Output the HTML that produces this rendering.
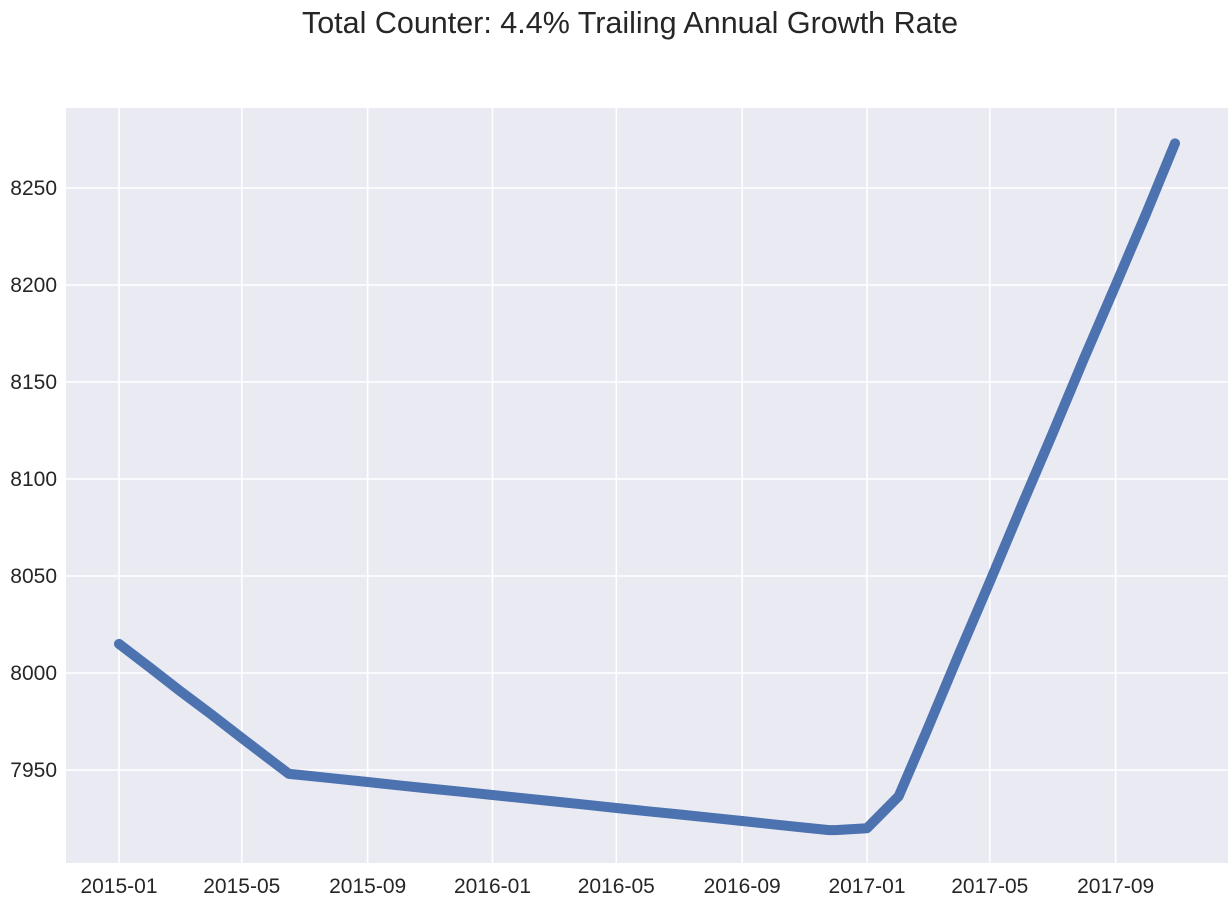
<!DOCTYPE html>
<html><head><meta charset="utf-8"><style>
body{margin:0;background:#fff;font-family:"Liberation Sans",Arial,sans-serif}
</style></head><body>
<svg width="1228" height="903" xmlns="http://www.w3.org/2000/svg">
<text x="630" y="33" text-anchor="middle" font-size="30.5" fill="#262626">Total Counter: 4.4% Trailing Annual Growth Rate</text>
<rect x="66" y="108" width="1162" height="755" fill="#EAEAF2"/>
<g id="grid"></g><g id="series"></g><g id="ticks"></g>
</svg>
<script>
const dates=["2015-01-01","2015-02-01","2015-03-01","2015-04-01","2015-05-01","2015-06-01","2015-06-16","2015-07-01","2015-08-01","2015-09-01","2015-10-01","2015-11-01","2015-12-01","2016-01-01","2016-02-01","2016-03-01","2016-04-01","2016-05-01","2016-06-01","2016-07-01","2016-08-01","2016-09-01","2016-10-01","2016-11-01","2016-11-25","2016-12-01","2017-01-01","2017-02-01","2017-03-01","2017-04-01","2017-05-01","2017-06-01","2017-07-01","2017-08-01","2017-09-01","2017-10-01","2017-10-29"];
const values=[8015,8002.5,7991,7978.7,7966.5,7954,7948,7947.2,7945.5,7943.8,7942.1,7940.4,7938.8,7937.1,7935.4,7933.8,7932.1,7930.4,7928.7,7927.1,7925.4,7923.7,7922,7920.3,7919,7919,7920,7936.5,7971,8010,8047,8086,8123,8162,8200,8237,8273];
const yTicks=[7950,8000,8050,8100,8150,8200,8250];
const xTicks=["2015-01","2015-05","2015-09","2016-01","2016-05","2016-09","2017-01","2017-05","2017-09"];
const NS="http://www.w3.org/2000/svg";
const t0=Date.UTC(2015,0,1),t1=Date.UTC(2017,0,1);
function px(d){const t=Date.parse(d+(d.length===7?"-01":"")+"T00:00:00Z");return 119+(t-t0)/(t1-t0)*748;}
function py(v){return 673-(v-8000)*1.94;}
function mk(tag,attrs,parent){const e=document.createElementNS(NS,tag);for(const k in attrs)e.setAttribute(k,attrs[k]);parent.appendChild(e);return e;}
const grid=document.getElementById('grid'),ticks=document.getElementById('ticks'),series=document.getElementById('series');
yTicks.forEach(v=>{
 const l=mk('line',{x1:66,x2:1228,y1:py(v),y2:py(v),stroke:'#fff','stroke-width':1.6},grid);
 
 
 const t=mk('text',{x:57,y:py(v)+7,'text-anchor':'end','font-size':21,fill:'#262626'},ticks);
 t.textContent=v;
 
 
});
xTicks.forEach(d=>{
 const l=mk('line',{x1:px(d),x2:px(d),y1:108,y2:863,stroke:'#fff','stroke-width':1.6},grid);
 
 
 const t=mk('text',{x:px(d),y:893,'text-anchor':'middle','font-size':21,fill:'#262626'},ticks);
 t.textContent=d;
 
 
});
const pts=dates.map((d,i)=>px(d).toFixed(1)+','+py(values[i]).toFixed(1)).join(' ');
const line=mk('polyline',{points:pts,fill:'none',stroke:'#4C72B0','stroke-width':10,'stroke-linecap':'round','stroke-linejoin':'round'},series);


</script>
</body></html>
